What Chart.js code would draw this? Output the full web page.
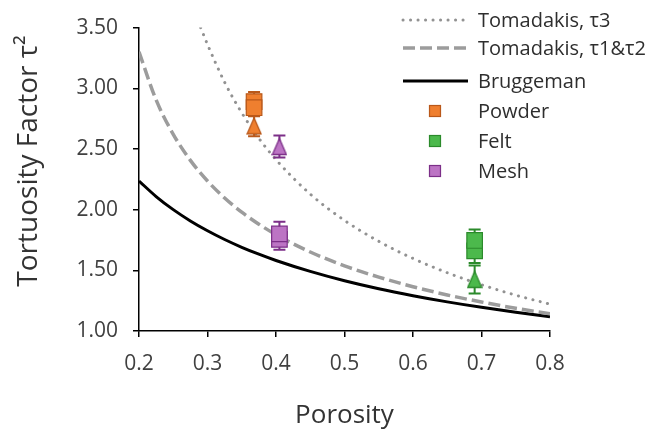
<!DOCTYPE html>
<html>
<head>
<meta charset="utf-8">
<script src="https://cdn.jsdelivr.net/npm/chart.js@4.4.1/dist/chart.umd.min.js"></script>
<style>
  html, body { margin: 0; padding: 0; background: #fff; }
  #wrap { width: 654px; height: 433px; position: relative; }
</style>
</head>
<body>
<div id="wrap"><canvas id="chart"></canvas></div>
<script>
// Model curves: tortuosity factor vs porosity
const porosity = [0.2, 0.225, 0.25, 0.275, 0.3, 0.325, 0.35, 0.375, 0.4, 0.45, 0.5, 0.55, 0.6, 0.65, 0.7, 0.75, 0.8];
const bruggeman = [2.236, 2.108, 2.000, 1.907, 1.826, 1.754, 1.690, 1.633, 1.581, 1.491, 1.414, 1.348, 1.291, 1.240, 1.195, 1.155, 1.118];
const tomadakis12 = [3.300, 2.904, 2.621, 2.406, 2.236, 2.096, 1.979, 1.880, 1.794, 1.651, 1.537, 1.444, 1.365, 1.297, 1.239, 1.187, 1.142];
const porosityT3 = [0.29, 0.3, 0.325, 0.35, 0.375, 0.4, 0.45, 0.5, 0.55, 0.6, 0.65, 0.7, 0.75, 0.8];
const tomadakis3 = [3.50, 3.361, 3.050, 2.798, 2.588, 2.412, 2.128, 1.911, 1.739, 1.598, 1.480, 1.381, 1.295, 1.221];

// Measured samples
const materials = ['Powder', 'Felt', 'Mesh'];
const materialPorosity = [0.368, 0.69, 0.405];
const squareValues = [[2.89, 2.84], [1.66, 1.746], [1.755, 1.80]];
const squareErrors = [[0.08, 0.07], [0.10, 0.09], [0.085, 0.10]];
const triangleValues = [2.69, 1.425, 2.52];
const triangleErrors = [0.085, 0.115, 0.09];
const fills = ['#ef7f2f', '#4cb94c', '#bc74c4'];
const strokes = ['#b9581a', '#2b8a2b', '#7c2f88'];

// Axis labels
const xTickLabels = ['0.2', '0.3', '0.4', '0.5', '0.6', '0.7', '0.8'];
const yTickLabels = ['1.00', '1.50', '2.00', '2.50', '3.00', '3.50'];
const xTitle = 'Porosity';
const yTitle = 'Tortuosity Factor τ²';

const FONT = "'Open Sans', sans-serif";
Chart.defaults.font.family = FONT;

function triangleMarker(fill, stroke) {
  const c = document.createElement('canvas');
  c.width = 16; c.height = 19;
  const g = c.getContext('2d');
  g.beginPath();
  g.moveTo(8, 1.5); g.lineTo(15, 17.5); g.lineTo(1, 17.5); g.closePath();
  g.fillStyle = fill; g.fill();
  g.lineWidth = 1.3; g.strokeStyle = stroke; g.stroke();
  return c;
}

const markerSets = [];
materials.forEach((name, m) => {
  markerSets.push({
    label: name,
    legendSquare: true,
    data: squareValues[m].map(v => ({ x: materialPorosity[m], y: v })),
    errors: squareErrors[m],
    showLine: false,
    pointStyle: 'rect',
    pointRadius: 11,
    backgroundColor: fills[m],
    borderColor: strokes[m],
    pointBorderWidth: 1.2
  });
});
materials.forEach((name, m) => {
  markerSets.push({
    label: name + ' (triangle)',
    data: [{ x: materialPorosity[m], y: triangleValues[m] }],
    errors: [triangleErrors[m]],
    showLine: false,
    pointStyle: triangleMarker(fills[m], strokes[m]),
    pointRadius: 9,
    backgroundColor: fills[m],
    borderColor: strokes[m]
  });
});

const lineSets = [
  {
    label: 'Tomadakis, τ3', legendLine: true,
    data: porosityT3.map((x, i) => ({ x, y: tomadakis3[i] })),
    borderColor: '#929292', borderWidth: 3, borderDash: [0.1, 7.4], borderCapStyle: 'round'
  },
  {
    label: 'Tomadakis, τ1&τ2', legendLine: true,
    data: porosity.map((x, i) => ({ x, y: tomadakis12[i] })),
    borderColor: '#9c9c9c', borderWidth: 3.5, borderDash: [12, 5], borderCapStyle: 'butt'
  },
  {
    label: 'Bruggeman', legendLine: true,
    data: porosity.map((x, i) => ({ x, y: bruggeman[i] })),
    borderColor: '#000000', borderWidth: 3, borderDash: [], borderCapStyle: 'butt'
  }
].map(d => Object.assign(d, { showLine: true, pointRadius: 0, fill: false, cubicInterpolationMode: 'monotone' }));

// Error bars drawn just before each marker dataset
const errorBars = {
  id: 'errorBars',
  beforeDatasetDraw(chart, args) {
    const ds = chart.data.datasets[args.index];
    if (!ds.errors) return;
    const { ctx, scales: { x, y } } = chart;
    ctx.save();
    ctx.strokeStyle = ds.borderColor;
    ctx.lineWidth = 2;
    ds.data.forEach((p, i) => {
      const e = ds.errors[i];
      const px = x.getPixelForValue(p.x);
      const top = y.getPixelForValue(p.y + e);
      const bot = y.getPixelForValue(p.y - e);
      ctx.beginPath();
      ctx.moveTo(px, top); ctx.lineTo(px, bot);
      ctx.moveTo(px - 6, top); ctx.lineTo(px + 6, top);
      ctx.moveTo(px - 6, bot); ctx.lineTo(px + 6, bot);
      ctx.stroke();
    });
    ctx.restore();
  }
};

// Vertical axis title, set slightly above the axis middle
const sideTitle = {
  id: 'sideTitle',
  afterDraw(chart) {
    const ctx = chart.ctx;
    ctx.save();
    ctx.translate(29, 161);
    ctx.rotate(-Math.PI / 2);
    ctx.font = '28px ' + FONT;
    ctx.fillStyle = '#333333';
    ctx.textAlign = 'center';
    ctx.textBaseline = 'middle';
    ctx.fillText(yTitle, 0, 0);
    ctx.restore();
  }
};

// Legend in the upper right corner
const cornerLegend = {
  id: 'cornerLegend',
  afterDraw(chart) {
    const ctx = chart.ctx;
    const rows = [20, 48, 81, 111, 141, 171];
    const items = chart.data.datasets.filter(d => d.legendLine)
      .concat(chart.data.datasets.filter(d => d.legendSquare));
    ctx.save();
    ctx.font = '20px ' + FONT;
    ctx.textBaseline = 'middle';
    ctx.textAlign = 'left';
    items.forEach((d, i) => {
      const yy = rows[i];
      if (d.legendLine) {
        ctx.save();
        ctx.strokeStyle = d.borderColor;
        ctx.lineWidth = d.borderWidth;
        ctx.setLineDash(d.borderDash);
        ctx.lineCap = d.borderCapStyle;
        ctx.beginPath(); ctx.moveTo(403, yy); ctx.lineTo(468, yy); ctx.stroke();
        ctx.restore();
      } else {
        ctx.fillStyle = d.backgroundColor;
        ctx.strokeStyle = d.borderColor;
        ctx.lineWidth = 1.2;
        ctx.fillRect(429.5, yy - 5.5, 11, 11);
        ctx.strokeRect(429.5, yy - 5.5, 11, 11);
      }
      ctx.fillStyle = '#2e2e2e';
      ctx.fillText(d.label, 478, yy + 1);
    });
    ctx.restore();
  }
};

new Chart(document.getElementById('chart'), {
  type: 'scatter',
  data: { datasets: markerSets.concat(lineSets) },
  plugins: [errorBars, sideTitle, cornerLegend],
  options: {
    responsive: true,
    maintainAspectRatio: false,
    animation: false,
    devicePixelRatio: 1,
    layout: { padding: { left: 0, right: 104, top: 20, bottom: 0 } },
    plugins: { legend: { display: false }, tooltip: { enabled: false } },
    scales: {
      x: {
        type: 'linear', min: 0.2, max: 0.8,
        afterFit: s => { s.height = 102; },
        ticks: {
          stepSize: 0.1, padding: 14, color: '#404040', font: { size: 21 },
          callback: (v, i) => xTickLabels[i]
        },
        grid: { drawOnChartArea: false, drawTicks: true, tickLength: 6, color: '#000', lineWidth: 1.5 },
        border: { color: '#000', width: 1.5 },
        title: { display: true, text: xTitle, color: '#333', font: { size: 26 }, padding: { top: 0, bottom: 2 } }
      },
      y: {
        type: 'linear', min: 1, max: 3.5,
        afterFit: s => { s.width = 139; },
        ticks: {
          stepSize: 0.5, padding: 15, color: '#404040', font: { size: 21 },
          callback: (v, i) => yTickLabels[i]
        },
        grid: { drawOnChartArea: false, drawTicks: true, tickLength: 6, color: '#000', lineWidth: 1.5 },
        border: { color: '#000', width: 1.5 },
        title: { display: false }
      }
    }
  }
});
</script>
</body>
</html>
